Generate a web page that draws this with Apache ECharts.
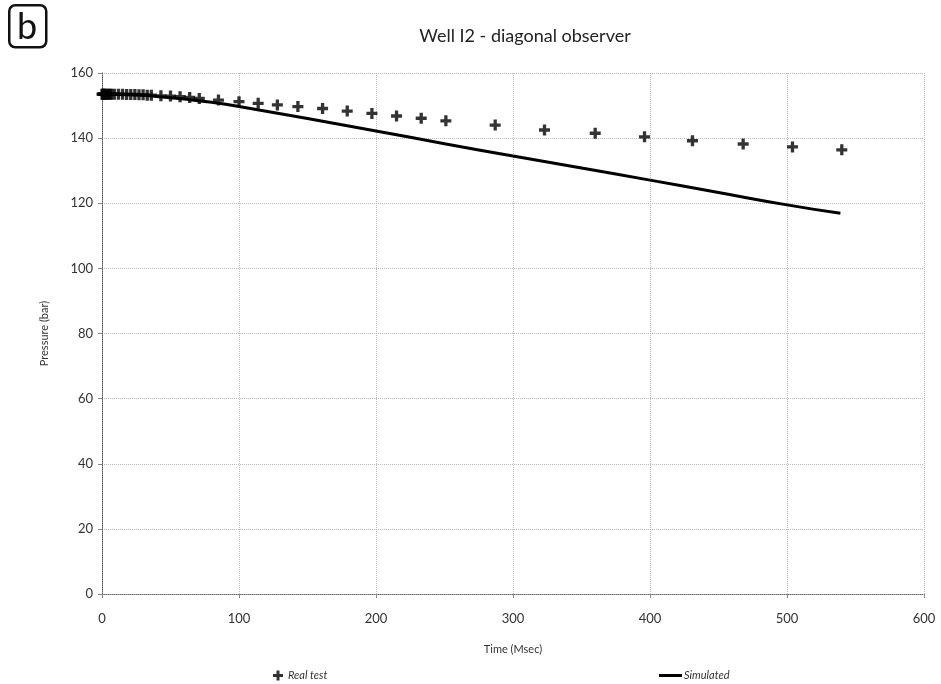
<!DOCTYPE html>
<html>
<head>
<meta charset="utf-8">
<script src="https://cdn.jsdelivr.net/npm/echarts@6/dist/echarts.min.js"></script>
<style>
  html, body { margin: 0; padding: 0; background: #fff; }
  #main { width: 941px; height: 684px; }
</style>
</head>
<body>
<div id="main"></div>
<script>
// Real test (time in Msec, pressure in bar)
const testTime = [0, 0.5, 1, 1.5, 2, 3, 4, 5, 6, 7, 9, 12, 15, 18, 21, 24, 27, 30, 33, 36, 43, 50, 57, 64, 71,
  85, 100, 114, 128, 143, 161, 179, 197, 215, 233, 251, 287, 323, 360, 396, 431, 468, 504, 540];
const testPressure = [153.5, 153.5, 153.5, 153.5, 153.5, 153.5, 153.5, 153.5, 153.5, 153.5, 153.5, 153.5, 153.5, 153.4, 153.4, 153.4, 153.3, 153.3, 153.2, 153.2, 153.0, 152.9, 152.7, 152.5, 152.2,
  151.7, 151.2, 150.7, 150.2, 149.7, 149.1, 148.3, 147.6, 146.8, 146.1, 145.3, 144.0, 142.5, 141.5, 140.4, 139.2, 138.2, 137.3, 136.4];

// Simulated
const simTime = [0, 20, 40, 60, 80, 100, 150, 200, 250, 300, 350, 400, 450, 500, 539];
const simPressure = [153.5, 153.4, 152.8, 152.0, 151.0, 149.7, 146.0, 142.2, 138.3, 134.5, 130.8, 127.1, 123.3, 119.5, 116.9];

const plusIcon = 'path://M3.5,0h3v3.5h3.5v3h-3.5v3.5h-3v-3.5h-3.5v-3h3.5z';
const font = 'Lato, "Open Sans", sans-serif';

const chart = echarts.init(document.getElementById('main'));

chart.setOption({
  animation: false,
  backgroundColor: '#fff',
  textStyle: { fontFamily: font },
  title: {
    text: 'Well I2 - diagonal observer',
    left: 520, top: 22, textAlign: 'center',
    textStyle: { fontSize: 18, fontWeight: 'normal', color: '#222', fontFamily: font }
  },
  graphic: [
    { type: 'rect', left: 8, top: 4,
      shape: { width: 37, height: 42, r: 6 },
      style: { fill: '#fff', stroke: '#111', lineWidth: 2.5 } },
    { type: 'text', x: 27, y: 27,
      style: { text: 'b', fontSize: 36, fill: '#111', fontFamily: font,
        align: 'center', verticalAlign: 'middle' } }
  ],
  legend: [
    { data: [{ name: 'Real test', icon: plusIcon }], left: 268, top: 665,
      itemWidth: 10, itemHeight: 10,
      textStyle: { fontSize: 11, color: '#333', fontStyle: 'italic' } },
    { data: [{ name: 'Simulated', icon: 'rect' }], left: 654, top: 665,
      itemWidth: 23, itemHeight: 3, itemGap: 2,
      textStyle: { fontSize: 11, color: '#333', fontStyle: 'italic', padding: [0, 0, 0, -3] } }
  ],
  grid: { left: 102, right: 17, top: 73, bottom: 90 },
  xAxis: {
    type: 'value', min: 0, max: 600, interval: 100,
    name: 'Time (Msec)', nameLocation: 'middle', nameGap: 50,
    nameTextStyle: { fontSize: 11, color: '#333' },
    axisLine: { lineStyle: { color: '#666', type: 'dotted' } },
    axisTick: { show: true, length: 4, lineStyle: { color: '#888' } },
    axisLabel: { fontSize: 13, color: '#333', margin: 18 },
    splitLine: { lineStyle: { color: '#bbb', type: 'dotted' } }
  },
  yAxis: {
    type: 'value', min: 0, max: 160, interval: 20,
    name: 'Pressure (bar)', nameLocation: 'middle', nameGap: 52, nameRotate: 90,
    nameTextStyle: { fontSize: 11, color: '#333' },
    axisLine: { show: true, lineStyle: { color: '#555', type: 'dotted' } },
    axisTick: { show: true, length: 4, lineStyle: { color: '#888' } },
    axisLabel: { fontSize: 13, color: '#333', margin: 9 },
    splitLine: { lineStyle: { color: '#bbb', type: 'dotted' } }
  },
  series: [
    {
      name: 'Real test', type: 'scatter',
      symbol: plusIcon, symbolSize: 11,
      itemStyle: { color: '#000' },
      data: testTime.map((t, i) => [t, testPressure[i]]),
      z: 3
    },
    {
      name: 'Simulated', type: 'line',
      showSymbol: false, smooth: true,
      lineStyle: { color: '#000', width: 3 },
      itemStyle: { color: '#000' },
      data: simTime.map((t, i) => [t, simPressure[i]]),
      z: 2
    }
  ]
});
</script>
</body>
</html>
